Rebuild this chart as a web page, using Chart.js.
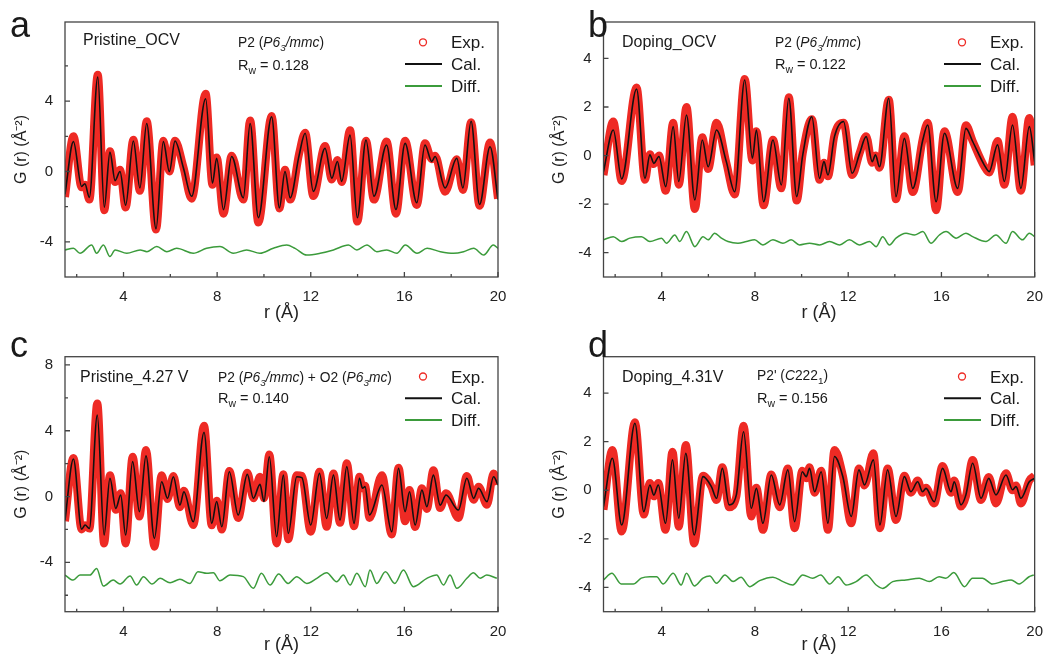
<!DOCTYPE html>
<html>
<head>
<meta charset="utf-8">
<script src="https://cdn.jsdelivr.net/npm/chart.js@4"></script>
<style>
  body { margin: 0; background: #fff; }
  #wrap { position: relative; width: 1046px; height: 657px; overflow: hidden; }
  canvas { position: absolute; }
</style>
</head>
<body>
<div id="wrap">
  <canvas id="ca" width="523" height="328" style="left:0;top:0"></canvas>
  <canvas id="cb" width="523" height="328" style="left:523px;top:0"></canvas>
  <canvas id="cc" width="523" height="329" style="left:0;top:328px"></canvas>
  <canvas id="cd" width="523" height="329" style="left:523px;top:328px"></canvas>
</div>
<script>
// ---- values (peaks / troughs of each curve) ----
const xMajor = [4, 8, 12, 16, 20];
const xMinor = [2, 6, 10, 14, 18];

// a  Pristine_OCV
const rA = [1.5,1.86,2.21,2.35,2.54,2.90,3.18,3.42,3.64,3.85,4.09,4.42,4.70,4.99,5.39,5.70,5.96,6.20,6.56,6.91,7.51,7.80,7.98,8.27,8.62,9.12,9.41,9.76,10.33,10.66,10.90,11.12,11.5,11.76,12.11,12.61,12.9,13.14,13.32,13.68,13.99,14.36,14.70,15.24,15.64,16.03,16.53,16.88,17.17,17.31,17.74,18.24,18.5,18.85,19.21,19.66,20.0];
const calA = [-1.3,1.7,-0.85,-0.7,-1.47,5.37,-2.03,1.1,-0.52,0.0,-1.92,1.73,-0.94,2.73,-3.26,1.7,0.0,1.73,0.2,-1.41,4.14,-0.66,0.75,-2.17,0.85,-1.5,2.73,-2.63,3.11,-2.07,0.0,-1.5,0.9,2.17,-1.13,1.32,-0.38,0.57,-0.56,2.07,-2.63,1.79,-1.41,1.51,-2.16,1.6,-1.78,1.51,0.57,0.85,-0.94,0.75,-0.94,2.86,-1.88,1.41,-1.6];
const expA = [-1.45,2.0,-0.9,-0.75,-1.6,5.5,-2.2,1.15,-0.6,0.1,-2.05,1.8,-1.1,2.85,-3.3,1.75,0.0,1.75,0.25,-1.55,4.42,-0.75,0.8,-2.4,0.9,-1.6,2.9,-2.9,3.15,-2.1,0.1,-1.6,1.0,2.2,-1.4,1.45,-0.45,0.65,-0.6,2.35,-2.85,1.75,-1.6,1.7,-2.4,1.75,-1.9,1.6,0.7,0.9,-1.15,0.7,-1.05,2.8,-1.95,1.65,-1.55];
const rDiffA = [1.5,1.86,2.14,2.64,2.85,3.14,3.42,3.64,4.14,4.71,5.0,5.42,5.85,6.27,6.98,7.55,8.12,8.69,9.26,9.83,10.4,10.97,11.33,11.83,12.4,12.97,13.61,13.97,14.4,14.82,15.25,15.68,16.04,16.54,16.97,17.54,18.1,18.53,18.96,19.39,19.8,20];
const diffA = [-4.46,-4.37,-4.65,-4.18,-4.65,-4.18,-4.84,-4.46,-4.65,-4.46,-4.56,-4.27,-4.56,-4.37,-4.65,-4.37,-4.27,-4.65,-4.46,-4.65,-4.37,-4.18,-4.37,-4.75,-4.65,-4.46,-4.18,-4.46,-4.18,-4.56,-4.46,-4.65,-4.18,-4.65,-4.37,-4.56,-4.65,-4.56,-4.37,-4.75,-4.18,-4.37];

// b  Doping_OCV
const rB = [1.5,1.92,2.28,2.92,3.28,3.49,3.66,3.88,4.17,4.49,4.73,5.06,5.42,5.74,5.99,6.35,6.77,7.13,7.56,7.89,8.06,8.37,8.77,9.13,9.45,9.79,10.05,10.44,10.77,10.96,11.13,11.41,11.80,12.17,12.49,12.77,13.03,13.17,13.34,13.74,14.05,14.41,14.77,15.2,15.41,15.77,16.13,16.7,17.05,17.34,17.84,18.05,18.41,18.7,19.05,19.41,19.77,20.0];
const calB = [-0.66,1.05,-0.96,2.74,-0.94,0.03,-0.32,-0.04,-1.28,1.19,-1.07,1.67,-1.83,0.64,-0.46,1.05,-0.25,-1.49,3.11,-0.11,1.05,-1.9,0.64,-1.21,2.36,-1.69,0.03,1.6,-0.94,-0.25,-0.8,0.78,1.40,-0.73,0.09,0.78,-0.25,0.03,-0.46,2.36,-1.69,0.71,-1.35,0.64,1.26,-1.9,0.92,-1.35,1.12,0.58,-0.39,-0.66,0.44,-1.07,1.26,-1.35,1.19,-0.25];
const expB = [-0.8,1.4,-1.05,2.8,-1.0,0.05,-0.35,0.0,-1.45,1.35,-1.2,2.0,-2.2,0.75,-0.55,1.35,-0.3,-1.6,3.15,-0.2,1.0,-2.05,0.65,-1.35,2.4,-1.85,0.1,1.5,-1.0,-0.3,-0.85,0.85,1.35,-0.8,0.1,0.8,-0.3,0.0,-0.5,2.3,-1.8,0.8,-1.5,0.7,1.35,-2.25,1.0,-1.5,1.25,0.6,-0.45,-0.7,0.6,-1.2,1.6,-1.45,1.55,-0.4];
const rDiffB = [1.5,1.92,2.28,2.63,3.13,3.49,3.99,4.2,4.56,4.77,5.06,5.42,5.77,5.99,6.27,6.56,6.84,7.27,7.63,7.98,8.34,8.77,9.2,9.55,9.91,10.34,10.77,11.2,11.63,12.05,12.48,12.91,13.2,13.48,13.77,14.05,14.48,14.84,15.2,15.55,15.91,16.2,16.63,17.05,17.34,17.91,18.34,18.77,19.05,19.48,19.77,20];
const diffB = [-3.47,-3.34,-3.54,-3.40,-3.34,-3.54,-3.40,-3.61,-3.27,-3.54,-3.13,-3.75,-3.34,-3.47,-3.20,-3.40,-3.54,-3.61,-3.54,-3.47,-3.68,-3.47,-3.61,-3.47,-3.68,-3.61,-3.68,-3.54,-3.68,-3.47,-3.68,-3.54,-3.75,-3.34,-3.68,-3.40,-3.20,-3.27,-3.13,-3.61,-3.27,-3.13,-3.40,-3.20,-3.34,-3.54,-3.27,-3.61,-3.13,-3.47,-3.20,-3.34];

// c  Pristine_4.27 V
const rC = [1.5,1.86,2.21,2.36,2.54,2.88,3.17,3.42,3.67,3.88,4.09,4.39,4.68,4.96,5.32,5.63,5.88,6.13,6.41,6.58,6.98,7.44,7.77,7.98,8.2,8.52,8.9,9.29,9.55,9.83,10.0,10.23,10.54,10.83,11.04,11.4,11.62,12.0,12.37,12.68,12.97,13.25,13.54,13.85,14.08,14.21,14.32,14.51,15.04,15.46,15.75,16.03,16.22,16.46,16.75,16.96,17.24,17.53,17.78,18.31,18.67,18.96,19.17,19.53,19.81,20.0];
const calC = [-1.43,2.28,-1.98,-1.73,-1.94,4.95,-2.34,1.11,-0.72,0.09,-2.34,2.12,-0.92,2.48,-2.54,0.9,-0.11,1.2,-0.52,0.29,-1.53,3.91,-1.63,-0.3,-1.84,1.51,-1.12,1.35,-0.11,0.74,-0.3,2.42,-2.44,1.3,-2.24,1.2,1.15,-1.73,1.41,-1.33,1.3,-1.43,1.82,-1.63,1.11,0.5,0.6,-1.12,0.7,-2.14,1.71,-0.92,0.29,-1.73,0.39,-0.62,1.3,-0.52,0.09,-0.82,1.11,-0.11,0.5,-0.31,1.2,0.7];
const expC = [-1.5,2.35,-2.0,-1.75,-1.95,5.66,-2.85,1.3,-0.8,0.2,-2.85,2.42,-1.22,2.83,-3.05,1.3,-0.15,1.25,-0.65,0.35,-1.73,4.31,-1.75,-0.25,-2.0,1.55,-1.3,1.45,-0.1,1.2,-0.1,2.55,-2.85,1.35,-2.6,1.3,1.25,-2.14,1.5,-1.84,1.4,-1.6,2.02,-1.8,1.2,0.5,0.65,-1.3,1.3,-2.3,1.75,-1.5,0.4,-1.85,0.5,-0.75,1.6,-0.7,0.2,-1.3,1.25,-0.2,0.6,-0.5,1.4,0.75];
const rDiffC = [1.5,1.85,2.14,2.57,2.85,3.14,3.56,3.85,4.28,4.56,4.85,5.22,5.56,5.99,6.41,6.84,7.18,7.56,7.84,8.12,8.55,9.12,9.55,9.89,10.26,10.63,11.03,11.4,11.83,12.26,12.68,13.11,13.39,13.68,13.97,14.33,14.53,14.82,15.19,15.59,15.96,16.38,16.96,17.38,17.67,17.95,18.24,18.67,18.95,19.24,19.52,19.95];
const diffC = [-4.77,-5.08,-4.77,-4.77,-4.37,-5.44,-5.08,-5.32,-4.83,-5.38,-4.87,-5.32,-4.97,-5.24,-5.03,-5.28,-4.57,-4.67,-4.63,-5.12,-4.77,-4.87,-5.58,-4.67,-5.38,-4.71,-5.28,-4.87,-5.28,-4.97,-4.63,-5.18,-4.77,-5.38,-4.67,-5.48,-4.47,-5.28,-4.57,-5.28,-4.47,-5.48,-4.97,-4.77,-5.38,-4.77,-5.58,-4.97,-4.63,-4.97,-4.77,-4.97];

// d  Doping_4.31V
const rD = [1.5,1.88,2.28,2.85,3.23,3.49,3.66,3.85,4.16,4.46,4.73,5.03,5.39,5.77,6.13,6.35,6.6,6.89,7.2,7.51,7.84,8.06,8.34,8.7,9.06,9.41,9.7,10.03,10.2,10.34,10.56,10.84,11.13,11.41,11.77,12.13,12.46,12.7,13.08,13.36,13.69,14.05,14.41,14.69,14.98,15.19,15.34,15.69,16.05,16.41,16.55,16.84,17.05,17.34,17.7,18.03,18.34,18.77,19.05,19.2,19.41,19.77,20.0];
const calD = [-0.67,1.32,-1.43,2.76,-0.88,0.22,-0.2,0.22,-1.36,1.25,-1.15,1.52,-1.84,0.56,0.15,-0.33,0.9,-0.6,-0.19,2.41,-0.74,0.08,-1.36,0.63,-0.6,0.84,-1.29,0.76,0.56,0.9,-0.06,0.76,-1.36,1.39,0.56,-1.08,0.84,0.22,1.25,-1.43,0.84,-1.08,0.56,-0.06,0.35,-0.06,0.08,-0.47,0.9,-0.06,0.35,-0.6,-0.19,1.11,-0.33,0.49,-0.19,0.63,0.02,0.15,-0.33,0.35,0.49];
const expD = [-0.8,1.66,-1.7,2.8,-1.0,0.3,-0.25,0.3,-1.63,1.59,-1.5,1.86,-2.19,0.6,0.15,-0.4,0.95,-0.7,-0.25,2.66,-1.08,0.1,-1.63,0.65,-0.7,0.9,-1.56,0.8,0.5,0.95,-0.1,0.8,-1.63,1.66,0.6,-1.36,0.9,0.2,1.52,-1.56,0.9,-1.22,0.6,-0.1,0.4,-0.1,0.1,-0.54,1.0,-0.1,0.4,-0.67,-0.25,1.25,-0.4,0.55,-0.54,0.7,0.0,0.2,-0.54,0.4,0.6];
const rDiffD = [1.5,1.86,2.26,2.78,3.12,3.49,3.78,4.06,4.49,4.83,5.06,5.4,5.77,6.06,6.35,6.71,7.06,7.4,7.77,8.2,8.77,9.2,9.62,10.05,10.48,10.82,11.2,11.57,11.91,12.34,12.77,13.2,13.48,13.91,14.48,15.05,15.48,15.9,16.19,16.53,16.99,17.33,17.76,18.19,18.61,18.99,19.33,19.76,19.96];
const diffD = [-3.69,-3.42,-3.86,-3.86,-3.62,-3.56,-3.56,-3.86,-3.42,-3.90,-3.42,-3.94,-3.62,-3.53,-3.83,-3.49,-3.76,-3.58,-3.97,-3.72,-3.58,-3.76,-3.90,-3.49,-3.62,-3.49,-3.86,-3.56,-3.90,-3.76,-3.49,-3.90,-4.04,-3.76,-3.69,-3.62,-3.76,-3.56,-3.62,-3.39,-3.97,-3.62,-3.62,-3.86,-3.76,-3.69,-3.86,-3.56,-3.49];

const FONT = "'Liberation Sans', Arial, Helvetica, sans-serif";
const RED = '#ee2a24', BLACK = '#111', GREEN = '#3b9b3b';

const phaseP2 = [{t:'P2 ('},{t:'P6',i:1},{t:'3',i:1,sub:1},{t:'/mmc',i:1},{t:')'}];
const phaseP2O2 = [{t:'P2 ('},{t:'P6',i:1},{t:'3',i:1,sub:1},{t:'/mmc',i:1},{t:') + O2 ('},{t:'P6',i:1},{t:'3',i:1,sub:1},{t:'mc',i:1},{t:')'}];
const phaseP2p = [{t:"P2' ("},{t:'C',i:1},{t:'222'},{t:'1',sub:1},{t:')'}];

// layout in page pixels
const panels = [
  {el:'ca', ox:0, oy:0, w:523, h:328, area:{l:65, r:498, t:22, b:277}, yMin:-6, yMax:8.5,
   yMajor:[-4,0,4], yMinor:[-2,2,6], yTitleX:22, xTitleY:313.5,
   r:rA, cal:calA, exp:expA, rd:rDiffA, diff:diffA,
   letter:'a', letterX:10, letterY:37, sample:'Pristine_OCV', sampleX:83, sampleY:45,
   phase:phaseP2, phaseX:238, phaseY:47, rw:'0.128', rwY:70, legX:451, legY:48.3},
  {el:'cb', ox:523, oy:0, w:523, h:328, area:{l:603.5, r:1036, t:22, b:277}, yMin:-5, yMax:5.5,
   yMajor:[-4,-2,0,2,4], yMinor:[], yTitleX:560, xTitleY:313.5,
   r:rB, cal:calB, exp:expB, rd:rDiffB, diff:diffB,
   letter:'b', letterX:588, letterY:37, sample:'Doping_OCV', sampleX:622, sampleY:46.5,
   phase:phaseP2, phaseX:775, phaseY:47, rw:'0.122', rwY:68.5, legX:990, legY:48.3},
  {el:'cc', ox:0, oy:328, w:523, h:329, area:{l:65, r:498, t:356.7, b:611.7}, yMin:-7, yMax:8.5,
   yMajor:[-4,0,4,8], yMinor:[-6,-2,2,6], yTitleX:22, xTitleY:645.5,
   r:rC, cal:calC, exp:expC, rd:rDiffC, diff:diffC,
   letter:'c', letterX:10, letterY:357, sample:'Pristine_4.27 V', sampleX:80, sampleY:381.7,
   phase:phaseP2O2, phaseX:218, phaseY:382, rw:'0.140', rwY:403, legX:451, legY:382.5},
  {el:'cd', ox:523, oy:328, w:523, h:329, area:{l:603.5, r:1036, t:356.7, b:611.7}, yMin:-5, yMax:5.5,
   yMajor:[-4,-2,0,2,4], yMinor:[], yTitleX:560, xTitleY:645.5,
   r:rD, cal:calD, exp:expD, rd:rDiffD, diff:diffD,
   letter:'d', letterX:588, letterY:357, sample:'Doping_4.31V', sampleX:622, sampleY:381.7,
   phase:phaseP2p, phaseX:757, phaseY:380, rw:'0.156', rwY:403, legX:990, legY:382.5}
];

function pts(xs, ys) { return xs.map((x, i) => ({x: x, y: ys[i]})); }

function drawRuns(ctx, runs, x, y, size) {
  runs.forEach(run => {
    const s = run.sub ? size * 0.72 : size;
    ctx.font = (run.i ? 'italic ' : '') + s + 'px ' + FONT;
    ctx.fillText(run.t, x, y + (run.sub ? size * 0.28 : 0));
    x += ctx.measureText(run.t).width;
  });
}

// frame, inward ticks and all the annotation text of one panel
function panelPlugin(p) {
  return {
    id: 'panel_' + p.letter,
    afterDraw(chart) {
      const ctx = chart.ctx, a = chart.chartArea, xs = chart.scales.x, ys = chart.scales.y;
      ctx.save();
      ctx.strokeStyle = '#444';
      ctx.lineWidth = 1.3;
      ctx.strokeRect(a.left, a.top, a.right - a.left, a.bottom - a.top);
      ctx.beginPath();
      xMajor.forEach(v => { const px = xs.getPixelForValue(v); ctx.moveTo(px, a.bottom); ctx.lineTo(px, a.bottom - 5); });
      xMinor.forEach(v => { const px = xs.getPixelForValue(v); ctx.moveTo(px, a.bottom); ctx.lineTo(px, a.bottom - 3); });
      p.yMajor.forEach(v => { const py = ys.getPixelForValue(v); ctx.moveTo(a.left, py); ctx.lineTo(a.left + 5, py); });
      p.yMinor.forEach(v => { const py = ys.getPixelForValue(v); ctx.moveTo(a.left, py); ctx.lineTo(a.left + 3, py); });
      ctx.stroke();

      const ox = p.ox, oy = p.oy;
      ctx.fillStyle = '#1a1a1a';
      ctx.textBaseline = 'alphabetic';
      ctx.textAlign = 'left';
      ctx.font = '36px ' + FONT;
      ctx.fillText(p.letter, p.letterX - ox, p.letterY - oy);
      ctx.font = '16px ' + FONT;
      ctx.fillText(p.sample, p.sampleX - ox, p.sampleY - oy);
      drawRuns(ctx, p.phase, p.phaseX - ox, p.phaseY - oy, 13.8);
      drawRuns(ctx, [{t:'R'},{t:'w',sub:1},{t:' = ' + p.rw}], p.phaseX - ox, p.rwY - oy, 14.5);

      // legend
      const lx = p.legX - ox, ly = p.legY - oy, step = 21.8;
      ctx.font = '17px ' + FONT;
      ['Exp.', 'Cal.', 'Diff.'].forEach((t, i) => ctx.fillText(t, lx, ly + i * step));
      ctx.beginPath();
      ctx.strokeStyle = RED; ctx.lineWidth = 1.3;
      ctx.arc(lx - 28, ly - 6, 3.5, 0, Math.PI * 2);
      ctx.stroke();
      ctx.beginPath();
      ctx.strokeStyle = BLACK; ctx.lineWidth = 2;
      ctx.moveTo(lx - 46, ly + step - 6); ctx.lineTo(lx - 9, ly + step - 6);
      ctx.stroke();
      ctx.beginPath();
      ctx.strokeStyle = GREEN; ctx.lineWidth = 2;
      ctx.moveTo(lx - 46, ly + 2 * step - 6); ctx.lineTo(lx - 9, ly + 2 * step - 6);
      ctx.stroke();
      ctx.restore();
    }
  };
}

panels.forEach(p => {
  const a = p.area;
  const chartTop = a.t - p.oy, chartBottom = a.b - p.oy;
  const yTitleFont = 16, xTitleFont = 18;
  new Chart(document.getElementById(p.el), {
    type: 'line',
    data: {
      datasets: [
        {label: 'Cal.', data: pts(p.r, p.cal), borderColor: BLACK, borderWidth: 1.6,
         pointRadius: 0, cubicInterpolationMode: 'monotone'},
        {label: 'Diff.', data: pts(p.rd, p.diff), borderColor: GREEN, borderWidth: 1.5,
         pointRadius: 0, cubicInterpolationMode: 'monotone'},
        {label: 'Exp.', data: pts(p.r, p.exp), borderColor: RED, borderWidth: 8,
         pointRadius: 0, cubicInterpolationMode: 'monotone'}
      ]
    },
    options: {
      responsive: false,
      animation: false,
      layout: {padding: {left: 0, top: chartTop, right: p.w - (a.r - p.ox), bottom: 0}},
      plugins: {legend: {display: false}, tooltip: {enabled: false}},
      scales: {
        x: {
          type: 'linear', min: 1.5, max: 20,
          grid: {display: false}, border: {display: false},
          afterBuildTicks: s => { s.ticks = xMajor.map(v => ({value: v})); },
          afterFit: s => { s.height = p.h - chartBottom; },
          ticks: {font: {family: FONT, size: 15}, color: '#222', padding: 3, maxRotation: 0,
                  autoSkip: false, callback: v => String(v)},
          title: {display: true, text: 'r (Å)', color: '#222', font: {family: FONT, size: xTitleFont},
                  padding: {top: 0, bottom: (p.h + p.oy - p.xTitleY) - xTitleFont * 0.6}}
        },
        y: {
          type: 'linear', min: p.yMin, max: p.yMax,
          grid: {display: false}, border: {display: false},
          afterBuildTicks: s => { s.ticks = p.yMajor.map(v => ({value: v})); },
          afterFit: s => { s.width = a.l - p.ox; },
          ticks: {font: {family: FONT, size: 15}, color: '#222', padding: 4, autoSkip: false,
                  callback: v => String(v)},
          title: {display: true, text: 'G (r) (Å⁻²)', color: '#222', font: {family: FONT, size: yTitleFont},
                  padding: {top: (p.yTitleX - p.ox) - yTitleFont * 0.6, bottom: 0}}
        }
      }
    },
    plugins: [panelPlugin(p)]
  });
});
</script>
</body>
</html>
